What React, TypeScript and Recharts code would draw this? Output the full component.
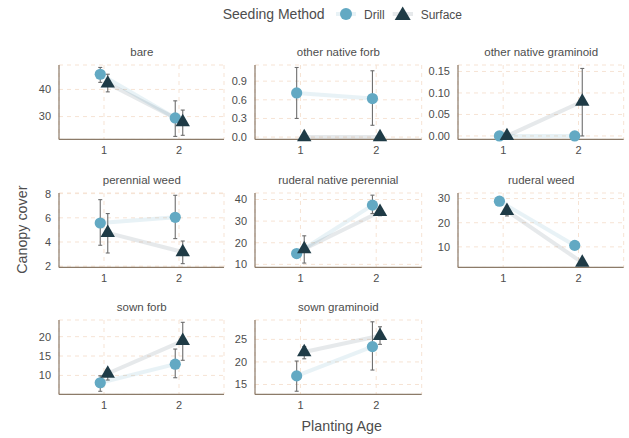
import React from "react";
import { ComposedChart, Line, Scatter, XAxis, YAxis, CartesianGrid, ErrorBar } from "recharts";

// ---------- data ----------
const ages = [1, 2];
const facets = [
  "bare",
  "other native forb",
  "other native graminoid",
  "perennial weed",
  "ruderal native perennial",
  "ruderal weed",
  "sown forb",
  "sown graminoid",
];

const drillMean = [
  [45.6, 29.5],
  [0.71, 0.62],
  [0, 0],
  [5.57, 6.04],
  [15.0, 37.4],
  [28.9, 10.6],
  [8.1, 12.9],
  [16.9, 23.4],
];
const drillLow = [
  [42.6, 22.7],
  [0.3, 0.19],
  [0, 0],
  [3.73, 4.28],
  [13.8, 33.5],
  [27.6, 9.6],
  [5.9, 9.4],
  [13.5, 18.2],
];
const drillHigh = [
  [48.1, 35.8],
  [1.12, 1.067],
  [0, 0],
  [7.5, 7.86],
  [16.2, 42.0],
  [30.1, 11.6],
  [9.9, 16.8],
  [20.2, 28.9],
];

const surfaceMean = [
  [42.2, 28.0],
  [0, 0],
  [0, 0.08],
  [4.75, 3.17],
  [17.1, 34.3],
  [24.9, 3.5],
  [10.5, 18.9],
  [22.2, 25.8],
];
const surfaceLow = [
  [39.1, 23.1],
  [0, 0],
  [0, 0],
  [3.09, 2.21],
  [10.6, 32.5],
  [22.8, 2.5],
  [8.8, 13.9],
  [20.7, 23.9],
];
const surfaceHigh = [
  [45.6, 32.4],
  [0, 0],
  [0, 0.157],
  [6.35, 4.08],
  [23.2, 36.0],
  [26.0, 4.5],
  [11.4, 23.7],
  [23.4, 27.8],
];

const yTicks = [
  [30, 40],
  [0, 0.3, 0.6, 0.9],
  [0, 0.05, 0.1, 0.15],
  [2, 4, 6, 8],
  [10, 20, 30, 40],
  [10, 20, 30],
  [10, 15, 20],
  [15, 20, 25],
];
const yDecimals = [0, 1, 2, 0, 0, 0, 0, 0];
const yDomains: [number, number][] = [
  [21.6, 49],
  [-0.037, 1.16],
  [-0.008, 0.165],
  [1.9, 8.05],
  [8.6, 43.0],
  [1.5, 32.3],
  [5.1, 24.3],
  [12.8, 29.3],
];

const seriesNames = ["Drill", "Surface"];

// ---------- style / layout ----------
const DRILL = "#63a9c3";
const SURFACE = "#1f3b46";
const AXIS = "#8c7b69";
const GRID = "#f6e3d4";
const TEXT = "#4d4d4d";
const FONT = "'Liberation Sans', Arial, sans-serif";

const COL_LEFT = [59.3, 255, 458.3];
const COL_RIGHT = [224.3, 421.7, 624];
const ROW_TOP = [65, 192.7, 320];
const PLOT_H = 74.4;
const YW = 50;
const XH = 24;
const MT = 8;
const MR = 4;
const DODGE = 0.05;

const circleShape = (p: any) => (
  <circle cx={p.cx} cy={p.cy} r={5.6} fill={DRILL} />
);
const triShape = (p: any) => {
  const s = 7.2;
  const h = s * Math.sqrt(3);
  const cx = p.cx;
  const cy = p.cy;
  const pts = `${cx},${cy - (2 * h) / 3} ${cx - s},${cy + h / 3} ${cx + s},${cy + h / 3}`;
  return <polygon points={pts} fill={SURFACE} />;
};

function makePts(i: number, mean: number[][], low: number[][], high: number[][], dodge: number) {
  return ages.map((a, j) => ({
    x: a + dodge,
    y: mean[i][j],
    err: [mean[i][j] - low[i][j], high[i][j] - mean[i][j]],
  }));
}

const XTick = (p: any) => (
  <text x={p.x} y={p.y} dy="0.71em" textAnchor="middle" fontSize={11} fill={TEXT} fontFamily={FONT}>
    {p.payload.value}
  </text>
);

function Panel({ idx }: { idx: number }) {
  const col = idx % 3;
  const row = Math.floor(idx / 3);
  const left = COL_LEFT[col];
  const plotW = COL_RIGHT[col] - left;
  const top = ROW_TOP[row];
  const w = YW + plotW + MR;
  const h = PLOT_H + XH + MT;
  const drillPts = makePts(idx, drillMean, drillLow, drillHigh, -DODGE);
  const surfPts = makePts(idx, surfaceMean, surfaceLow, surfaceHigh, DODGE);
  const YTick = (p: any) => (
    <text x={p.x} y={p.y} dy="0.355em" textAnchor="end" fontSize={11} fill={TEXT} fontFamily={FONT}>
      {Number(p.payload.value).toFixed(yDecimals[idx])}
    </text>
  );
  return (
    <div style={{ position: "absolute", left: left - YW, top: top - MT, width: w, height: h }}>
      <ComposedChart width={w} height={h} margin={{ top: MT, right: MR, bottom: 0, left: 0 }}>
        <CartesianGrid stroke={GRID} strokeDasharray="4 4" fill="none" />
        <XAxis
          type="number"
          dataKey="x"
          domain={[0.4, 2.6]}
          ticks={ages}
          interval={0}
          height={XH}
          tickLine={false}
          tickSize={6}
          tickMargin={1}
          axisLine={{ stroke: AXIS, strokeWidth: 1.2 }}
          tick={<XTick />}
        />
        <YAxis
          type="number"
          dataKey="y"
          domain={yDomains[idx]}
          ticks={yTicks[idx]}
          interval={0}
          width={YW}
          tickLine={false}
          tickSize={6}
          tickMargin={2}
          axisLine={{ stroke: AXIS, strokeWidth: 1.2 }}
          tick={<YTick />}
        />
        <Line
          data={drillPts}
          dataKey="y"
          name={seriesNames[0]}
          stroke={DRILL}
          strokeOpacity={0.15}
          strokeWidth={4}
          dot={false}
          activeDot={false}
          isAnimationActive={false}
        />
        <Line
          data={surfPts}
          dataKey="y"
          name={seriesNames[1]}
          stroke={SURFACE}
          strokeOpacity={0.11}
          strokeWidth={4}
          dot={false}
          activeDot={false}
          isAnimationActive={false}
        />
        <Scatter data={drillPts} dataKey="y" shape={circleShape} isAnimationActive={false}>
          <ErrorBar dataKey="err" direction="y" width={2} stroke="#6e6e6e" strokeWidth={1.1} />
        </Scatter>
        <Scatter data={surfPts} dataKey="y" shape={triShape} isAnimationActive={false}>
          <ErrorBar dataKey="err" direction="y" width={2} stroke="#6e6e6e" strokeWidth={1.1} />
        </Scatter>
      </ComposedChart>
    </div>
  );
}

export default function App() {
  return (
    <div
      style={{
        position: "absolute",
        left: 0,
        top: 0,
        width: 629,
        height: 438,
        background: "#fff",
        fontFamily: FONT,
      }}
    >
      <svg width={629} height={438} style={{ position: "absolute", left: 0, top: 0 }}>
        {/* legend */}
        <text x={222.7} y={19} fontSize={14} fill={TEXT} fontFamily={FONT}>
          Seeding Method
        </text>
        <line x1={336} y1={14} x2={356} y2={14} stroke={DRILL} strokeOpacity={0.15} strokeWidth={4} />
        <circle cx={346} cy={14} r={6} fill={DRILL} />
        <text x={364} y={18.5} fontSize={12} fill={TEXT} fontFamily={FONT}>
          {seriesNames[0]}
        </text>
        <line x1={392.7} y1={14} x2={413} y2={14} stroke={SURFACE} strokeOpacity={0.11} strokeWidth={4} />
        <polygon points="402.7,6.5 394.7,20 410.7,20" fill={SURFACE} />
        <text x={420.7} y={18.5} fontSize={12} fill={TEXT} fontFamily={FONT}>
          {seriesNames[1]}
        </text>
        {/* strip titles */}
        {facets.map((f, i) => {
          const col = i % 3;
          const row = Math.floor(i / 3);
          const cx = (COL_LEFT[col] + COL_RIGHT[col]) / 2;
          return (
            <text
              key={f}
              x={cx}
              y={ROW_TOP[row] - 9}
              textAnchor="middle"
              fontSize={11.5}
              fill={TEXT}
              fontFamily={FONT}
            >
              {f}
            </text>
          );
        })}
        {/* axis titles */}
        <text
          x={341.7}
          y={431}
          textAnchor="middle"
          fontSize={14.3}
          fill={TEXT}
          fontFamily={FONT}
        >
          Planting Age
        </text>
        <text
          x={0}
          y={0}
          transform="translate(27,229.7) rotate(-90)"
          textAnchor="middle"
          fontSize={14.3}
          fill={TEXT}
          fontFamily={FONT}
        >
          Canopy cover
        </text>
      </svg>
      {facets.map((f, i) => (
        <Panel key={f} idx={i} />
      ))}
    </div>
  );
}
